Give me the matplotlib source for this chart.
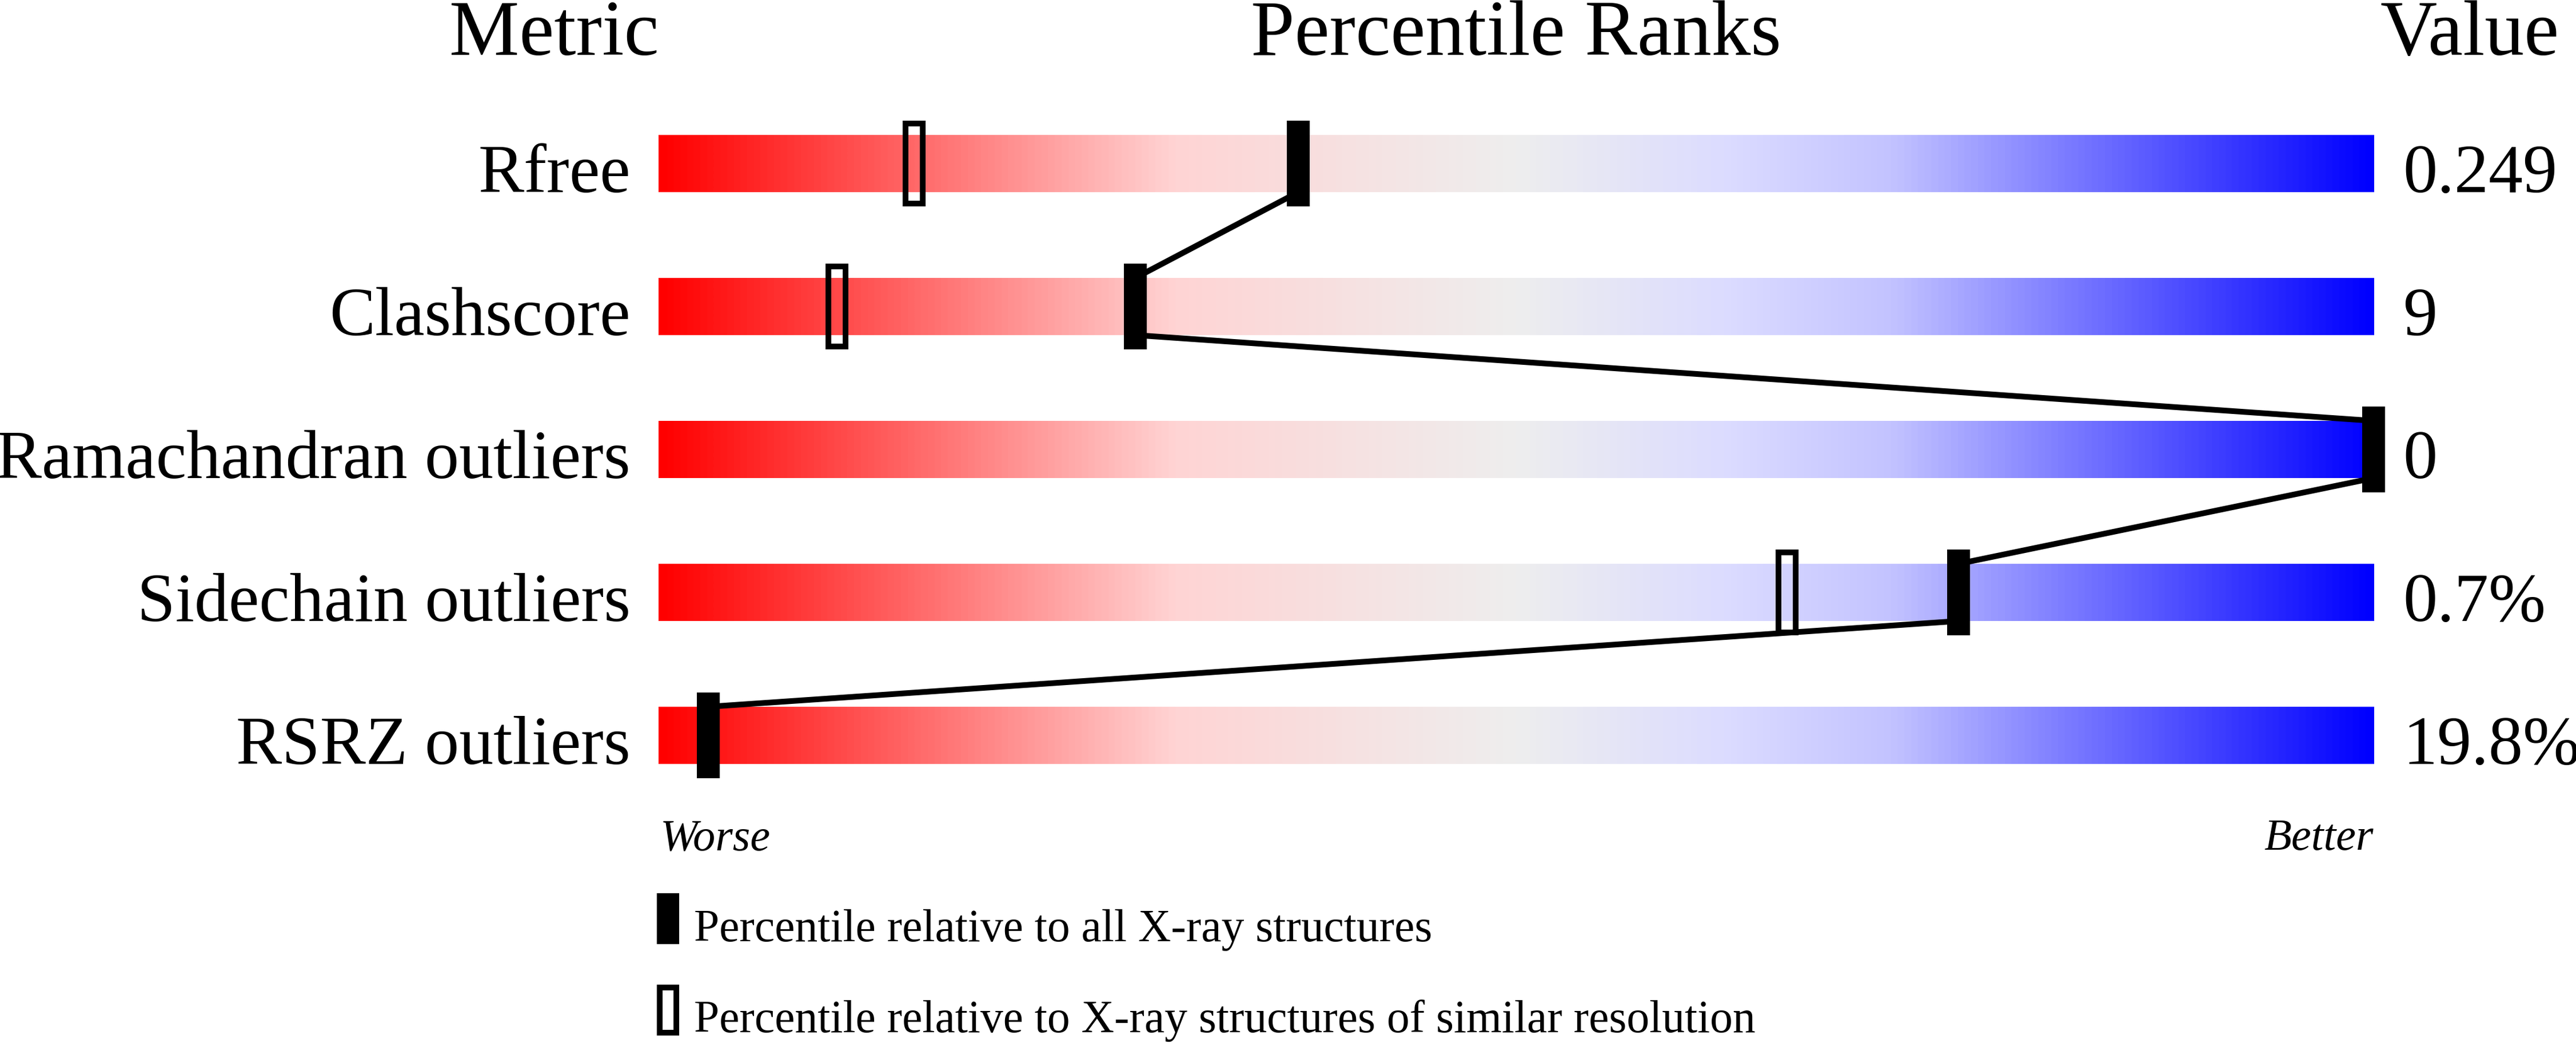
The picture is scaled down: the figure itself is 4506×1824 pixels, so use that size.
import numpy as np
import matplotlib
matplotlib.use("Agg")
import matplotlib.pyplot as plt
from matplotlib.colors import LinearSegmentedColormap
from matplotlib.patches import Rectangle

# ---- data ----
metrics = ["Rfree", "Clashscore", "Ramachandran outliers", "Sidechain outliers", "RSRZ outliers"]
values = ["0.249", "9", "0", "0.7%", "19.8%"]
pct_all = [37.3, 27.8, 100.0, 75.8, 2.9]          # percentile vs all X-ray structures
pct_similar = [14.9, 10.4, None, 65.8, None]     # percentile vs similar resolution
legend_labels = ["Percentile relative to all X-ray structures",
                 "Percentile relative to X-ray structures of similar resolution"]

W, H, DPI = 4506, 1824, 300
fig = plt.figure(figsize=(W / DPI, H / DPI), dpi=DPI)
fig.patch.set_facecolor("white")

# axes: x = percentile (0..100), y = row index
ax = fig.add_axes([1152 / W, 1 - 1411 / H, 3000 / W, 1250 / H])
ax.set_xlim(0, 100)
ax.set_ylim(4.5, -0.5)
ax.axis("off")

cmap = LinearSegmentedColormap.from_list("wwpdb", [
    (0.00, (1.0, 0.0, 0.0)),
    (0.30, (255/255, 212/255, 212/255)),
    (0.50, (238/255, 238/255, 238/255)),
    (0.62, (220/255, 220/255, 255/255)),
    (0.72, (195/255, 195/255, 255/255)),
    (1.00, (0.0, 0.0, 1.0)),
])
grad = np.linspace(0, 1, 512).reshape(1, -1)

FONT = "Liberation Serif"
bar_half = 0.2
px_x = 1 / 30.0     # data units per pixel in x
px_y = 1 / 250.0    # data units per pixel in y
lw_px = 10
lw_pt = lw_px * 72 / DPI

for i, m in enumerate(metrics):
    ax.imshow(grad, cmap=cmap, aspect="auto", interpolation="bilinear",
              extent=(0, 100, i + bar_half, i - bar_half), zorder=1)
    ax.text(-49 * px_x, i + bar_half, m, ha="right", va="baseline",
            fontsize=28.8, family=FONT, clip_on=False)
    ax.text(101.7, i + bar_half, values[i], ha="left", va="baseline",
            fontsize=28.8, family=FONT, clip_on=False)

# connecting line
lx, ly = [], []
for i, p in enumerate(pct_all):
    lx += [p, p]
    ly += [i - bar_half, i + bar_half]
ax.plot(lx, ly, color="black", lw=lw_pt, solid_capstyle="butt",
        solid_joinstyle="miter", zorder=3, clip_on=False)

mw, mh = 40 * px_x, 150 * px_y
for i, p in enumerate(pct_all):
    ax.add_patch(Rectangle((p - mw / 2, i - mh / 2), mw, mh, facecolor="black",
                           edgecolor="none", zorder=5, clip_on=False))
for i, p in enumerate(pct_similar):
    if p is None:
        continue
    w_in, h_in = (40 - lw_px) * px_x, (150 - lw_px) * px_y
    ax.add_patch(Rectangle((p - w_in / 2, i - h_in / 2), w_in, h_in, facecolor="none",
                           edgecolor="black", lw=lw_pt, zorder=4, clip_on=False))

# headers
hy = (96 - 286) * px_y
ax.text((969 - 1152) * px_x, hy, "Metric", ha="center", va="baseline",
        fontsize=33, family=FONT, clip_on=False)
ax.text(50, hy, "Percentile Ranks", ha="center", va="baseline",
        fontsize=33, family=FONT, clip_on=False)
ax.text((4320 - 1152) * px_x, hy, "Value", ha="center", va="baseline",
        fontsize=33, family=FONT, clip_on=False)

# Worse / Better
wy = (1486 - 286) * px_y
ax.text(0.1, wy, "Worse", ha="left", va="baseline", style="italic",
        fontsize=18.8, family=FONT, clip_on=False)
ax.text(100, wy, "Better", ha="right", va="baseline", style="italic",
        fontsize=18.8, family=FONT, clip_on=False)

# legend
lgx0 = (1149 - 1152) * px_x
lgw = 39 * px_x
ax.add_patch(Rectangle((lgx0, (1562 - 286) * px_y), lgw, 89 * px_y,
                       facecolor="black", edgecolor="none", clip_on=False))
ax.add_patch(Rectangle((lgx0 + 5 * px_x, (1727 - 286) * px_y), (39 - 10) * px_x, (89 - 10) * px_y,
                       facecolor="none", edgecolor="black", lw=lw_pt, clip_on=False))
ax.text((1214 - 1152) * px_x, (1646 - 286) * px_y, legend_labels[0], ha="left",
        va="baseline", fontsize=19.1, family=FONT, clip_on=False)
ax.text((1214 - 1152) * px_x, (1805 - 286) * px_y, legend_labels[1], ha="left",
        va="baseline", fontsize=19.1, family=FONT, clip_on=False)

fig.savefig("out.png", dpi=DPI, facecolor="white")
